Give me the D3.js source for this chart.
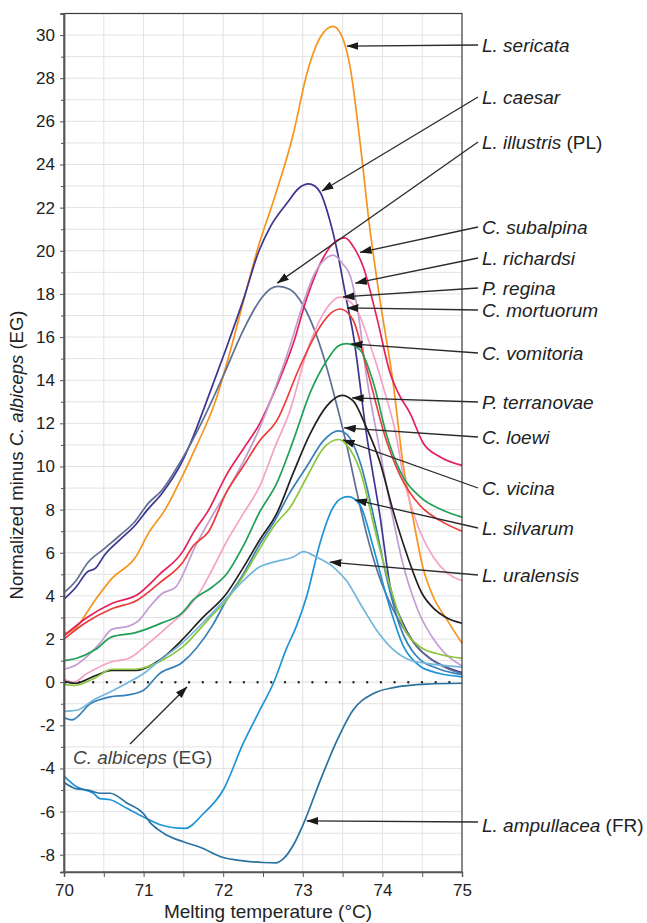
<!DOCTYPE html>
<html><head><meta charset="utf-8">
<script src="https://cdn.jsdelivr.net/npm/d3@7"></script>
<style>
body{margin:0;background:#fff}
text{font-family:Arial,"Liberation Sans",sans-serif;fill:#222}
</style></head>
<body><svg id="c" width="647" height="923"></svg>
<script>
// ---- data (temperature °C, normalized value) ----
const xTickValues=[70,71,72,73,74,75];
const yTickValues=[-8,-6,-4,-2,0,2,4,6,8,10,12,14,16,18,20,22,24,26,28,30];
const sericata=[[70,2.25],[70.14,2.5],[70.39,3.8],[70.6,4.8],[70.9,5.8],[71.06,6.9],[71.27,8.0],[71.48,9.5],[71.67,11.0],[71.9,13.0],[72.1,15.5],[72.25,17.6],[72.45,20.3],[72.63,22.3],[72.88,25.4],[73.05,28.2],[73.22,29.9],[73.38,30.4],[73.47,30.1],[73.6,28.4],[73.72,25.0],[73.84,21.1],[73.97,17.7],[74.13,14.0],[74.26,10.1],[74.39,7.5],[74.51,5.3],[74.64,3.95],[74.81,2.9],[75,1.8]];
const caesar=[[70,3.85],[70.15,4.4],[70.29,5.1],[70.4,5.3],[70.51,5.9],[70.7,6.6],[70.9,7.3],[71.05,8.0],[71.23,8.75],[71.48,10.2],[71.58,11.0],[71.83,13.4],[72.05,15.6],[72.25,17.7],[72.45,20.0],[72.59,21.1],[72.8,22.2],[72.95,22.9],[73.07,23.1],[73.15,23.0],[73.22,22.7],[73.34,21.4],[73.42,20.2],[73.55,17.7],[73.63,16.2],[73.8,11.5],[73.97,7.7],[74.1,4.4],[74.25,2.8],[74.4,1.8],[74.6,1.1],[74.8,0.7],[75,0.45]];
const illustris=[[70,4.15],[70.15,4.7],[70.29,5.5],[70.51,6.2],[70.7,6.8],[70.88,7.4],[71.06,8.3],[71.23,8.9],[71.46,10.2],[71.75,12.2],[72.0,14.2],[72.25,16.3],[72.46,17.7],[72.6,18.25],[72.69,18.35],[72.84,18.2],[73.0,17.5],[73.15,16.3],[73.26,15.1],[73.43,12.8],[73.55,11.0],[73.68,8.8],[73.8,6.9],[73.95,5.0],[74.13,3.4],[74.3,2.3],[74.5,1.4],[74.75,0.75],[75,0.4]];
const subalpina=[[70,2.15],[70.29,3.0],[70.6,3.65],[70.92,4.05],[71.2,5.0],[71.5,6.1],[71.62,6.9],[71.82,8.0],[72.04,9.6],[72.25,10.8],[72.46,12.0],[72.67,13.7],[72.88,15.7],[73.05,17.8],[73.26,19.7],[73.4,20.4],[73.53,20.6],[73.65,20.1],[73.76,19.25],[73.93,16.9],[74.1,14.3],[74.2,13.4],[74.35,12.45],[74.51,11.1],[74.72,10.45],[75,10.05]];
const richardsi=[[70,0.6],[70.15,0.8],[70.29,1.2],[70.45,1.8],[70.6,2.45],[70.81,2.6],[70.92,2.8],[71.1,3.6],[71.23,4.1],[71.4,4.4],[71.65,6.3],[71.86,7.7],[72.04,8.8],[72.25,10.2],[72.46,11.8],[72.65,13.6],[72.84,15.6],[73.0,17.5],[73.13,18.8],[73.25,19.5],[73.38,19.8],[73.5,19.4],[73.6,18.8],[73.7,17.0],[73.8,14.2],[73.93,11.5],[74.1,8.2],[74.25,5.6],[74.45,3.3],[74.7,1.7],[75,0.75]];
const regina=[[70,0.15],[70.12,0.0],[70.29,0.4],[70.6,0.95],[70.81,1.1],[71.06,1.8],[71.31,2.6],[71.57,3.5],[71.71,4.2],[71.86,5.2],[72.04,6.5],[72.25,7.8],[72.46,9.1],[72.65,10.9],[72.84,12.6],[73.05,15.3],[73.26,17.1],[73.47,17.85],[73.68,17.25],[73.84,15.7],[74.01,13.7],[74.18,11.3],[74.26,9.6],[74.43,7.4],[74.64,5.8],[74.8,5.1],[75,4.7]];
const mortuorum=[[70,2.0],[70.29,2.8],[70.6,3.4],[70.92,3.8],[71.2,4.6],[71.5,5.6],[71.62,6.3],[71.82,7.0],[72.04,8.8],[72.25,10.0],[72.46,11.2],[72.67,12.1],[72.96,14.6],[73.22,16.5],[73.35,17.1],[73.47,17.3],[73.63,16.8],[73.8,14.6],[74.05,11.2],[74.22,9.6],[74.47,8.2],[74.72,7.5],[75,7.0]];
const vomitoria=[[70,1.0],[70.15,1.1],[70.39,1.5],[70.6,2.1],[70.9,2.3],[71.23,2.75],[71.48,3.2],[71.62,3.8],[71.86,4.4],[72.04,5.0],[72.25,6.3],[72.46,7.9],[72.67,9.2],[72.88,11.2],[73.09,13.4],[73.3,14.9],[73.45,15.6],[73.55,15.7],[73.72,15.4],[73.89,13.85],[74.05,11.5],[74.22,9.8],[74.47,8.6],[74.76,7.97],[75,7.65]];
const terranovae=[[70,0.05],[70.14,-0.05],[70.39,0.3],[70.6,0.55],[70.9,0.55],[71.23,1.1],[71.48,1.95],[71.73,2.95],[72.04,4.1],[72.25,5.3],[72.46,6.6],[72.67,7.8],[72.88,9.7],[73.09,11.5],[73.3,12.8],[73.49,13.3],[73.63,13.05],[73.8,11.8],[73.97,10.2],[74.13,8.0],[74.3,6.0],[74.5,4.1],[74.65,3.4],[74.8,3.0],[75,2.73]];
const loewi=[[70,-1.65],[70.1,-1.75],[70.33,-1.0],[70.58,-0.68],[70.79,-0.6],[71.0,-0.37],[71.2,0.4],[71.48,0.9],[71.86,2.6],[72.04,3.8],[72.25,5.0],[72.46,6.4],[72.65,7.5],[72.84,8.8],[73.05,10.0],[73.26,11.2],[73.45,11.65],[73.55,11.5],[73.72,10.2],[73.93,7.0],[74.05,4.9],[74.22,2.6],[74.43,1.2],[74.72,0.6],[75,0.35]];
const vicina=[[70,-0.1],[70.14,-0.15],[70.39,0.2],[70.6,0.6],[70.9,0.6],[71.23,1.0],[71.48,1.6],[71.86,3.1],[72.04,3.8],[72.25,4.9],[72.46,6.2],[72.65,7.3],[72.84,8.1],[73.05,9.5],[73.26,10.85],[73.45,11.25],[73.55,11.0],[73.72,9.8],[73.93,6.7],[74.1,4.4],[74.26,2.6],[74.47,1.65],[74.68,1.33],[75,1.1]];
const silvarum=[[70,-4.35],[70.16,-4.85],[70.37,-5.15],[70.45,-5.4],[70.58,-5.45],[70.79,-5.85],[71.0,-6.25],[71.2,-6.6],[71.52,-6.78],[71.75,-6.1],[72.0,-5.0],[72.25,-2.85],[72.46,-1.3],[72.63,-0.05],[72.8,1.6],[72.92,2.6],[73.05,4.0],[73.22,6.5],[73.38,8.1],[73.5,8.55],[73.57,8.6],[73.72,8.2],[73.89,6.2],[74.05,4.0],[74.26,1.7],[74.47,0.75],[74.72,0.4],[75,0.25]];
const uralensis=[[70,-1.35],[70.16,-1.3],[70.37,-0.83],[70.58,-0.45],[70.79,-0.05],[71.0,0.4],[71.2,1.0],[71.48,1.8],[71.86,3.2],[72.17,4.4],[72.46,5.35],[72.67,5.6],[72.88,5.8],[73.01,6.05],[73.17,5.8],[73.38,5.35],[73.55,4.7],[73.72,3.65],[73.93,2.4],[74.14,1.5],[74.35,1.02],[74.56,0.87],[75,0.7]];
const ampullacea=[[70,-4.65],[70.16,-4.95],[70.3,-5.0],[70.45,-5.15],[70.58,-5.15],[70.79,-5.6],[71.0,-6.1],[71.08,-6.5],[71.25,-7.0],[71.5,-7.4],[71.71,-7.65],[72.0,-8.13],[72.25,-8.28],[72.5,-8.36],[72.66,-8.38],[72.76,-8.17],[72.88,-7.56],[73.01,-6.55],[73.22,-4.55],[73.43,-2.7],[73.63,-1.3],[73.89,-0.52],[74.14,-0.25],[74.56,-0.09],[75,-0.05]];
const albiceps=[[70,0],[75,0]];

const seriesData=[sericata,caesar,illustris,subalpina,richardsi,regina,mortuorum,vomitoria,terranovae,loewi,vicina,silvarum,uralensis,ampullacea];
const seriesColors=["#f7941d","#3c3591","#5f6f94","#e4215b","#c39bd3","#f5a2c6","#ec3b3b","#1fa055","#231f20","#3580b8","#8cc63e","#1f93d8","#72b6dc","#2a71a0"];

// annotation labels: italic name, plain suffix, arrow tip (data units)
const labelItalic=["L. sericata","L. caesar","L. illustris","C. subalpina","L. richardsi","P. regina","C. mortuorum","C. vomitoria","P. terranovae","C. loewi","C. vicina","L. silvarum","L. uralensis","L. ampullacea"];
const labelSuffix=["",""," (PL)","","","","","","","","","","",""," (FR)"].filter((d,i)=>i!==13);
const labelTips=[[73.555,29.49],[73.24,22.77],[72.68,18.5],[73.72,19.93],[73.66,18.5],[73.505,17.86],[73.555,17.35],[73.605,15.68],[73.62,13.18],[73.52,11.79],[73.505,11.23],[73.66,8.45],[73.34,5.57],[73.05,-6.43]];
const albicepsTip=[71.545,-0.22];

// ---- layout ----
const labelY=[45,97,142,227,258,288,310,353,402,437,488,528,575,825];
const L=64,R=462,T=13.5,B=872;
const svg=d3.select("#c");
const x=d3.scaleLinear().domain([70,75]).range([L,R]);
const y=d3.scaleLinear().domain([-8.8,31]).range([B,T]);

// grid
const g=svg.append("g");
g.selectAll(".v").data(d3.range(70.5,75,0.5)).join("line")
 .attr("x1",d=>x(d)).attr("x2",d=>x(d)).attr("y1",T).attr("y2",B)
 .attr("stroke","#e2e2e2").attr("stroke-width",1);
g.selectAll(".h").data(d3.range(-8,31,1)).join("line")
 .attr("x1",L).attr("x2",R).attr("y1",d=>y(d)).attr("y2",d=>y(d))
 .attr("stroke","#e2e2e2").attr("stroke-width",1);

// zero dotted line (C. albiceps)
svg.append("path").datum(albiceps)
 .attr("d",d3.line().x(d=>x(d[0])).y(d=>y(d[1])))
 .attr("stroke","#222").attr("stroke-width",2.4).attr("stroke-linecap","round")
 .attr("stroke-dasharray","0,13.7").attr("stroke-dashoffset",-1.8).attr("fill","none");

// series
const line=d3.line().x(d=>x(d[0])).y(d=>y(d[1])).curve(d3.curveMonotoneX);
svg.append("g").selectAll("path").data(seriesData).join("path")
 .attr("d",line).attr("fill","none")
 .attr("stroke",(d,i)=>seriesColors[i]).attr("stroke-width",1.7)
 .attr("stroke-linejoin","round");

// frame
svg.append("rect").attr("x",L).attr("y",T).attr("width",R-L).attr("height",B-T)
 .attr("fill","none").attr("stroke","#3a3a3a").attr("stroke-width",1.2);

// axes
const ax=svg.append("g").attr("transform",`translate(0,${B})`)
 .call(d3.axisBottom(x).tickValues(d3.range(70,75.01,0.5)).tickSize(5).tickPadding(7)
 .tickFormat(d=>xTickValues.includes(d)?String(d):""));
const ay=svg.append("g").attr("transform",`translate(${L},0)`)
 .call(d3.axisLeft(y).tickValues(yTickValues).tickSize(4).tickPadding(5).tickFormat(d=>String(d)));
const aym=svg.append("g").attr("transform",`translate(${L},0)`)
 .call(d3.axisLeft(y).tickValues(d3.range(-7,31,2)).tickSize(3).tickFormat(""));
[ax,ay,aym].forEach(a=>{
 a.select(".domain").attr("stroke","#555").attr("stroke-width",1.4);
 a.selectAll(".tick line").attr("stroke","#555");
 a.selectAll("text").attr("font-size","17px").attr("fill","#222").attr("font-family","Arial, 'Liberation Sans', sans-serif");
});

// axis titles
svg.append("text").attr("x",268).attr("y",918).attr("text-anchor","middle")
 .attr("font-size","19px").text("Melting temperature (°C)");
const yt=svg.append("text").attr("transform","translate(23,455) rotate(-90)")
 .attr("text-anchor","middle").attr("font-size","18.5px");
yt.append("tspan").text("Normalized minus ");
yt.append("tspan").attr("font-style","italic").text("C. albiceps");
yt.append("tspan").text(" (EG)");

// arrows
const defs=svg.append("defs");
defs.append("marker").attr("id","ah").attr("markerUnits","userSpaceOnUse")
 .attr("markerWidth",12).attr("markerHeight",8).attr("refX",11.5).attr("refY",4)
 .attr("orient","auto").append("path").attr("d","M0,0L12,4L0,8Z").attr("fill","#1a1a1a");
const ann=svg.append("g");
labelItalic.forEach((nm,i)=>{
 const sy=labelY[i]+(i===13?-3:0);
 ann.append("line").attr("x1",478).attr("y1",sy)
  .attr("x2",x(labelTips[i][0])).attr("y2",y(labelTips[i][1]))
  .attr("stroke","#2a2a2a").attr("stroke-width",1.3).attr("marker-end","url(#ah)");
 const t=ann.append("text").attr("x",482).attr("y",labelY[i]+6.5).attr("font-size","19px");
 t.append("tspan").attr("font-style","italic").text(nm);
 if(labelSuffix[i]) t.append("tspan").text(labelSuffix[i]);
});
// C. albiceps annotation
ann.append("line").attr("x1",130).attr("y1",744)
 .attr("x2",x(albicepsTip[0])).attr("y2",y(albicepsTip[1]))
 .attr("stroke","#2a2a2a").attr("stroke-width",1.3).attr("marker-end","url(#ah)");
const at=ann.append("text").attr("x",73).attr("y",764).attr("font-size","19px").style("fill","#444");
at.append("tspan").attr("font-style","italic").text("C. albiceps");
at.append("tspan").text(" (EG)");
</script></body></html>
